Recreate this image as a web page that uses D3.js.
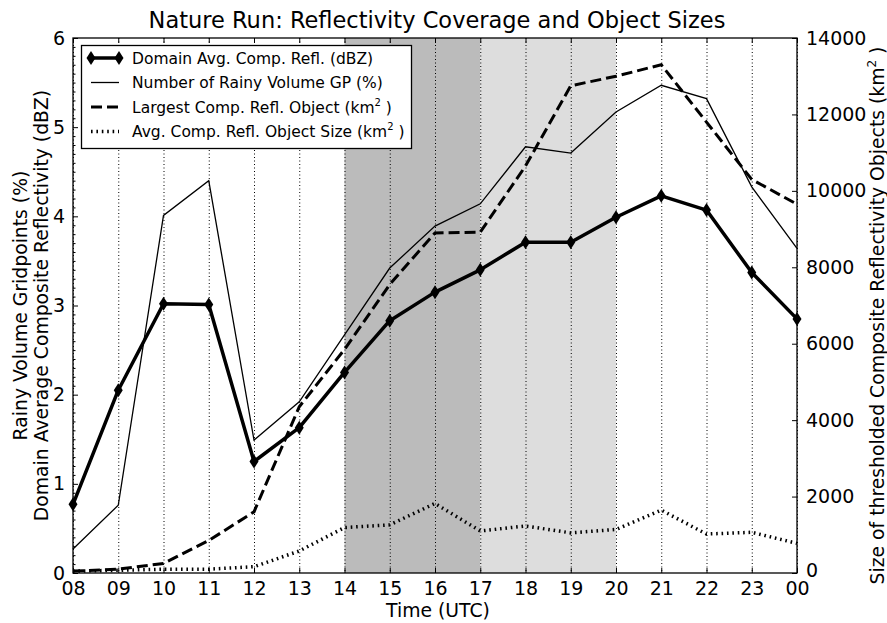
<!DOCTYPE html>
<html>
<head>
<meta charset="utf-8">
<script src="https://cdn.jsdelivr.net/npm/d3@7"></script>
<style>
  html, body { margin: 0; padding: 0; background: #fff; }
  svg { display: block; font-family: "DejaVu Sans", sans-serif; }
</style>
</head>
<body>
<svg id="chart" width="887" height="623"></svg>
<script>
// Hourly time steps (UTC)
const hours = ["08","09","10","11","12","13","14","15","16","17","18","19","20","21","22","23","00"];

// Domain average composite reflectivity (dBZ), left axis
const domainAvgRefl = [0.77, 2.05, 3.02, 3.01, 1.25, 1.63, 2.25, 2.83, 3.15, 3.40, 3.71, 3.71, 3.99, 4.23, 4.07, 3.37, 2.85];
// Rainy volume gridpoints (%), left axis
const rainyGP = [0.27, 0.76, 4.01, 4.40, 1.49, 1.92, 2.67, 3.42, 3.89, 4.14, 4.78, 4.71, 5.17, 5.47, 5.32, 4.33, 3.64];
// Largest composite reflectivity object (km^2), right axis
const largestObj = [50, 100, 250, 850, 1600, 4350, 5850, 7550, 8900, 8920, 10650, 12750, 13000, 13300, 11800, 10300, 9650];
// Average composite reflectivity object size (km^2), right axis
const avgObjSize = [50, 70, 100, 100, 165, 575, 1190, 1260, 1820, 1100, 1230, 1050, 1140, 1645, 1020, 1065, 775];

// Shaded periods (hour index ranges)
const darkPeriod = [6, 9];
const lightPeriod = [9, 12];

const leftTicks = [0, 1, 2, 3, 4, 5, 6];
const rightTicks = [0, 2000, 4000, 6000, 8000, 10000, 12000, 14000];

const svg = d3.select("#chart");
const m = { left: 73, right: 797, top: 38, bottom: 573 };
const tickFont = 19;
const labelFont = 18.8;

const x = d3.scaleLinear().domain([0, hours.length - 1]).range([m.left, m.right]);
const yL = d3.scaleLinear().domain([0, 6]).range([m.bottom, m.top]);
const yR = d3.scaleLinear().domain([0, 14000]).range([m.bottom, m.top]);

// Shaded background periods
svg.append("rect")
  .attr("x", x(darkPeriod[0])).attr("y", m.top)
  .attr("width", x(darkPeriod[1]) - x(darkPeriod[0])).attr("height", m.bottom - m.top)
  .attr("fill", "#bbbbbb");
svg.append("rect")
  .attr("x", x(lightPeriod[0])).attr("y", m.top)
  .attr("width", x(lightPeriod[1]) - x(lightPeriod[0])).attr("height", m.bottom - m.top)
  .attr("fill", "#dddddd");

const idx = hours.map((h, i) => i);

// Vertical dotted grid at every hour
svg.append("g").selectAll("line").data(idx).join("line")
  .attr("x1", d => x(d) + 0.5).attr("x2", d => x(d) + 0.5)
  .attr("y1", m.top).attr("y2", m.bottom)
  .attr("stroke", "#000").attr("stroke-width", 1)
  .attr("stroke-dasharray", "1,2.5");

const lineL = vals => d3.line().x(i => x(i)).y(i => yL(vals[i]))(idx);
const lineR = vals => d3.line().x(i => x(i)).y(i => yR(vals[i]))(idx);

const plot = svg.append("g");
// Average object size (dotted)
plot.append("path").attr("d", lineR(avgObjSize))
  .attr("fill", "none").attr("stroke", "#000").attr("stroke-width", 3.5)
  .attr("stroke-dasharray", "1.6,3.8");
// Largest object (dashed)
plot.append("path").attr("d", lineR(largestObj))
  .attr("fill", "none").attr("stroke", "#000").attr("stroke-width", 3)
  .attr("stroke-dasharray", "11,5");
// Rainy volume gridpoints (thin)
plot.append("path").attr("d", lineL(rainyGP))
  .attr("fill", "none").attr("stroke", "#000").attr("stroke-width", 1.3);
// Domain average reflectivity (thick with thin diamonds)
plot.append("path").attr("d", lineL(domainAvgRefl))
  .attr("fill", "none").attr("stroke", "#000").attr("stroke-width", 3.5)
  .attr("stroke-linejoin", "round");

const diamond = (cx, cy) => `M${cx},${cy - 7}L${cx + 4.5},${cy}L${cx},${cy + 7}L${cx - 4.5},${cy}Z`;
plot.append("g").selectAll("path").data(idx).join("path")
  .attr("d", i => diamond(x(i), yL(domainAvgRefl[i])))
  .attr("fill", "#000");

// Frame
svg.append("rect")
  .attr("x", m.left).attr("y", m.top)
  .attr("width", m.right - m.left).attr("height", m.bottom - m.top)
  .attr("fill", "none").attr("stroke", "#000").attr("stroke-width", 1.3);

// X axis (bottom) and mirrored top ticks
const xAxis = d3.axisBottom(x).tickValues(idx).tickFormat(i => hours[i])
  .tickSizeInner(-5).tickSizeOuter(0).tickPadding(9);
const gx = svg.append("g").attr("transform", `translate(0,${m.bottom})`).call(xAxis);
gx.select(".domain").remove();
gx.selectAll("text").attr("font-size", tickFont).attr("font-family", "DejaVu Sans");
svg.append("g").attr("transform", `translate(0,${m.top})`)
  .call(d3.axisTop(x).tickValues(idx).tickFormat("").tickSizeInner(-5).tickSizeOuter(0))
  .select(".domain").remove();

// Left axis
const gl = svg.append("g").attr("transform", `translate(${m.left},0)`)
  .call(d3.axisLeft(yL).tickValues(leftTicks).tickFormat(d3.format("d"))
    .tickSizeInner(-5).tickSizeOuter(0).tickPadding(8));
gl.select(".domain").remove();
gl.selectAll("text").attr("font-size", tickFont).attr("font-family", "DejaVu Sans");
// Left minor ticks
svg.append("g").attr("transform", `translate(${m.left},0)`)
  .call(d3.axisLeft(yL).tickValues(d3.range(0, 61).map(v => v / 10).filter(v => !leftTicks.includes(v)))
    .tickFormat("").tickSizeInner(-2.5).tickSizeOuter(0))
  .select(".domain").remove();

// Right axis
const gr = svg.append("g").attr("transform", `translate(${m.right},0)`)
  .call(d3.axisRight(yR).tickValues(rightTicks).tickFormat(d3.format("d"))
    .tickSizeInner(-5).tickSizeOuter(0).tickPadding(9));
gr.select(".domain").remove();
gr.selectAll("text").attr("font-size", tickFont).attr("font-family", "DejaVu Sans");
gr.selectAll(".tick text").filter(d => d === 0).attr("dy", "0.2em");

svg.selectAll(".tick line").attr("stroke", "#000").attr("stroke-width", 1);

// Title
svg.append("text").attr("x", (m.left + m.right) / 2 + 2).attr("y", 28)
  .attr("text-anchor", "middle").attr("font-size", 22.5).text("Nature Run: Reflectivity Coverage and Object Sizes");

// X label
svg.append("text").attr("x", (m.left + m.right) / 2 + 3).attr("y", 617)
  .attr("text-anchor", "middle").attr("font-size", labelFont).text("Time (UTC)");

// Left labels (two lines)
const midY = (m.top + m.bottom) / 2;
svg.append("text").attr("transform", `translate(27,${midY}) rotate(-90)`)
  .attr("text-anchor", "middle").attr("font-size", labelFont).text("Rainy Volume Gridpoints (%)");
svg.append("text").attr("transform", `translate(48,${midY}) rotate(-90)`)
  .attr("text-anchor", "middle").attr("font-size", labelFont).text("Domain Average Composite Reflectivity (dBZ)");

// Right label
const rl = svg.append("text").attr("transform", `translate(884,${midY + 10}) rotate(-90)`)
  .attr("text-anchor", "middle").attr("font-size", labelFont);
rl.append("tspan").text("Size of thresholded Composite Reflectivity Objects (km");
rl.append("tspan").attr("font-size", 12).attr("dy", -8).text("2");
rl.append("tspan").attr("dy", 8).text(" )");

// Legend
const legendItems = [
  { label: "Domain Avg. Comp. Refl. (dBZ)", sup: false, w: 3.5, dash: null, marker: true },
  { label: "Number of Rainy Volume GP (%)", sup: false, w: 1.3, dash: null, marker: false },
  { label: "Largest Comp. Refl. Object (km", sup: true, w: 3, dash: "11,5", marker: false },
  { label: "Avg. Comp. Refl. Object Size (km", sup: true, w: 3.5, dash: "1.6,3.8", marker: false }
];
const lg = svg.append("g");
lg.append("rect").attr("x", 81.5).attr("y", 45.5).attr("width", 330).attr("height", 103)
  .attr("fill", "#fff").attr("stroke", "#000").attr("stroke-width", 1.3);
legendItems.forEach((it, k) => {
  const cy = 58 + k * 24.5;
  const row = lg.append("g");
  row.append("line").attr("x1", 91).attr("x2", 119).attr("y1", cy).attr("y2", cy)
    .attr("stroke", "#000").attr("stroke-width", it.w)
    .attr("stroke-dasharray", it.dash);
  if (it.marker) {
    row.append("path").attr("d", diamond(91, cy)).attr("fill", "#000");
    row.append("path").attr("d", diamond(119, cy)).attr("fill", "#000");
  }
  const t = row.append("text").attr("x", 132).attr("y", cy + 5.5).attr("font-size", 15.5);
  t.append("tspan").text(it.label);
  if (it.sup) {
    t.append("tspan").attr("font-size", 10).attr("dy", -7).text("2");
    t.append("tspan").attr("dy", 7).text(" )");
  }
});
</script>
</body>
</html>
